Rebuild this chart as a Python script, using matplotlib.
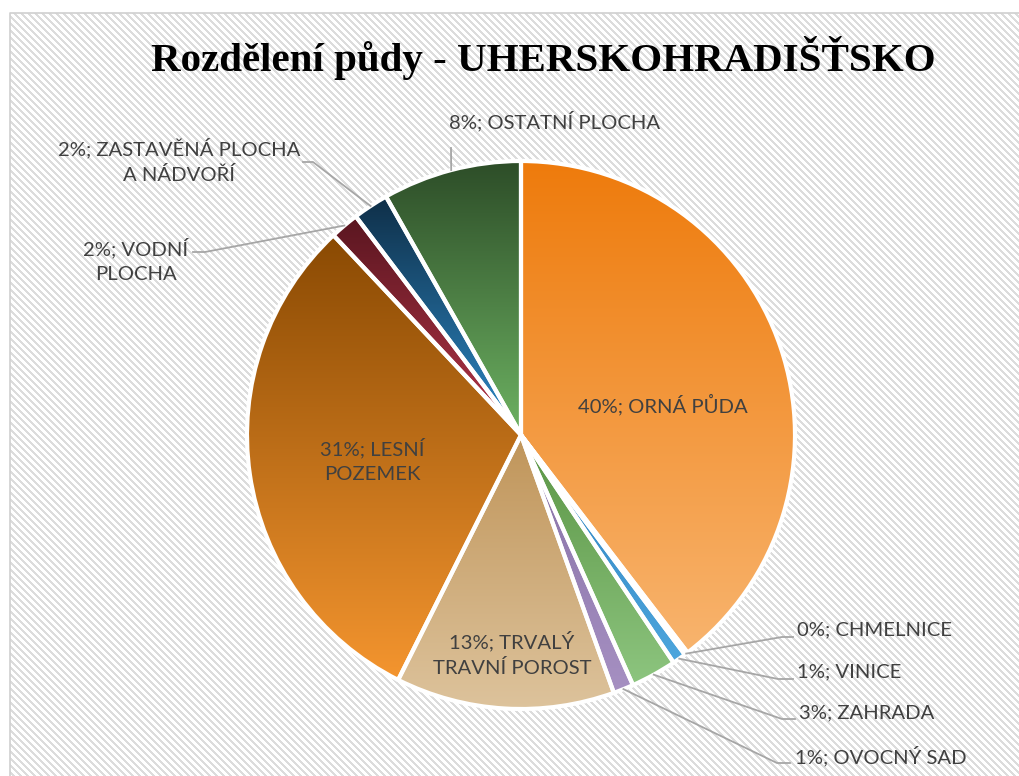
import numpy as np
import matplotlib.pyplot as plt
from matplotlib.colors import to_rgb

# share of land by category (%), clockwise from 12 o'clock
categories = ["ORNÁ PŮDA", "CHMELNICE", "VINICE", "ZAHRADA", "OVOCNÝ SAD",
              "TRVALÝ\nTRAVNÍ POROST", "LESNÍ\nPOZEMEK", "VODNÍ\nPLOCHA",
              "ZASTAVĚNÁ PLOCHA\nA NÁDVOŘÍ", "OSTATNÍ PLOCHA"]
shares = [39.6, 0.2, 0.8, 2.7, 1.2, 12.9, 30.6, 1.7, 2.1, 8.2]

# gradient colours (top, bottom) per slice
grad_top = ["#EE7B0C", "#9A9A9A", "#2F80BE", "#5A9444", "#8670A5",
            "#C0955A", "#8A4A03", "#5A1620", "#0F2F48", "#2D4D28"]
grad_bot = ["#F8B46E", "#C8C8C8", "#4DA6DD", "#8DC57F", "#A690C2",
            "#DDC39C", "#F4952F", "#B63649", "#2E8BC9", "#6DB262"]

W, H = 1019, 776
cx, cy, R = 521, H - 435, 274

fig = plt.figure(figsize=(W / 100, H / 100), dpi=100)
ax = fig.add_axes([0, 0, 1, 1])

# striped chart background
x0, ytop = 10, 13
xs = np.arange(x0, W)
ys = np.arange(ytop, H)
XX, YY = np.meshgrid(xs, ys)
stripe = ((XX - YY) % 7) < 3
bg = np.ones(stripe.shape + (3,))
bg[stripe] = to_rgb("#DCDCDC")
ax.imshow(bg, extent=(x0, W, 0, H - ytop), origin="upper", interpolation="nearest",
          aspect="auto", zorder=0)
ax.plot([x0, x0, W], [0, H - ytop, H - ytop], color="#D0D0D0", lw=1.2, zorder=1)

wedges, _ = ax.pie(shares, startangle=90, counterclock=False, center=(cx, cy), radius=R,
                   colors=grad_top, wedgeprops=dict(linewidth=0))
for w, c0, c1 in zip(wedges, grad_top, grad_bot):
    w.set_zorder(1.5)
    bb = w.get_path().get_extents()
    t = np.linspace(0, 1, 256)[:, None, None]
    arr = (1 - t) * np.array(to_rgb(c0)) + t * np.array(to_rgb(c1))
    im = ax.imshow(arr, extent=(bb.x0, bb.x1, bb.y0, bb.y1), origin="upper",
                   interpolation="bilinear", aspect="auto", zorder=2)
    im.set_clip_path(w)

ax.pie(shares, startangle=90, counterclock=False, center=(cx, cy), radius=R,
       wedgeprops=dict(facecolor="none", edgecolor="white", linewidth=3, zorder=3))

total = sum(shares)
labels = [f"{round(v / total * 100):.0f}%; {c}" for v, c in zip(shares, categories)]

font = dict(family="Lato", fontsize=14.6, color="#404040", zorder=5)

# labels inside the pie
inside = {0: (663, 405), 5: (512, 654), 6: (372, 460)}
for i, (px, py) in inside.items():
    ax.text(px, H - py, labels[i], ha="center", va="center", linespacing=1.55, **font)

# labels outside with leader lines
outside = {
    9: ((555, 121), "center", [(451, 148)]),
    8: ((179, 161), "center", [(313, 162), (303, 162)]),
    7: ((136, 260), "center", [(205, 252), (193, 252)]),
    1: ((797, 630), "left", [(782, 637), (793, 637)]),
    2: ((797, 672), "left", [(778, 679), (793, 679)]),
    3: ((799, 713), "left", [(782, 719), (795, 719)]),
    4: ((795, 756), "left", [(777, 763), (790, 763)]),
}
angles = np.cumsum([0] + shares[:-1]) / total * 360 + np.array(shares) / total * 180
for i, ((px, py), ha, pts) in outside.items():
    ax.text(px, H - py, labels[i], ha=ha, va="center", linespacing=1.55, **font)
    a = np.radians(angles[i])
    sx, sy = cx + R * np.sin(a), cy + R * np.cos(a)
    lx = [sx] + [p[0] for p in pts]
    ly = [sy] + [H - p[1] for p in pts]
    ax.plot(lx, ly, color="#A6A6A6", lw=1.3, zorder=4)

ax.text(543, H - 71, "Rozdělení půdy - UHERSKOHRADIŠŤSKO", ha="center", va="baseline",
        family="Liberation Serif", fontweight="bold", fontsize=29.5, color="black", zorder=5)

ax.set_xlim(0, W)
ax.set_ylim(0, H)
ax.axis("off")
fig.savefig("out.png", dpi=100)
